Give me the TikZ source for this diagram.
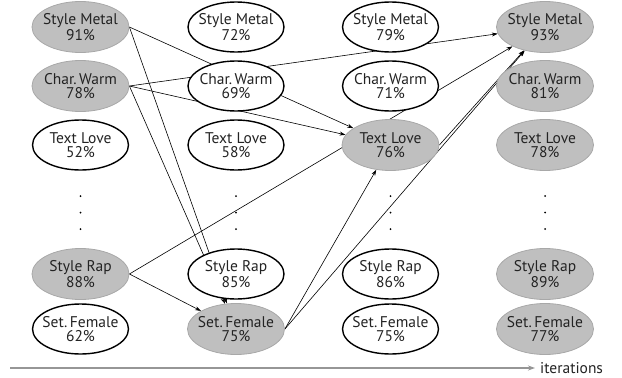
\documentclass[tikz,border=0pt]{standalone}
\usepackage{fontspec}
\setmainfont{PT Sans}
\usepackage{tikz}
\usetikzlibrary{shapes}
\usetikzlibrary{arrows.meta}
\definecolor{nodegray}{RGB}{191,191,191}
\definecolor{rimgray}{RGB}{168,168,168}
\definecolor{txtgray}{RGB}{35,35,35}
\definecolor{axisgray}{RGB}{150,150,150}
\pgfdeclarelayer{background}
\pgfsetlayers{background,main}
\newcommand{\vfont}{\fontsize{15.5}{14}\selectfont}
\newcommand{\grayvertex}[4]{\node[shape=ellipse,fill=nodegray,draw=rimgray,line width=0.8pt,minimum width=97pt,minimum height=51pt,inner xsep=-12pt,inner ysep=-2pt,align=center,text=txtgray,font=\vfont] (#1) at ( #2 , #3 ) {#4};}
\newcommand{\whitevertex}[4]{\node[shape=ellipse,fill=white,draw=black,line width=1.4pt,minimum width=96pt,minimum height=50pt,inner xsep=-12pt,inner ysep=-2pt,align=center,text=txtgray,font=\vfont] (#1) at ( #2 , #3 ) {#4};}
\newcommand{\dotcol}[1]{\fill[black] ( #1 , 196 ) circle (1pt); \fill[black] ( #1 , 212.5 ) circle (1pt); \fill[black] ( #1 , 229 ) circle (1pt);}

\begin{document}
\begin{tikzpicture}[x=1pt,y=-1pt,>={Stealth[length=6pt,width=4pt]}]
        \useasboundingbox (0,0) rectangle (622,378);

        % column 1
        \grayvertex{m1}{80.5}{27}{Style Metal\\91\%}
        \grayvertex{c1}{80.5}{86}{Char.\,Warm\\78\%}
        \whitevertex{t1}{80.5}{145}{Text Love\\52\%}
        \grayvertex{r1}{80.5}{274}{Style Rap\\88\%}
        \whitevertex{f1}{80.5}{329}{Set.\,Female\\62\%}
        % column 2
        \whitevertex{m2}{236}{27}{Style Metal\\72\%}
        \whitevertex{c2}{236}{86}{Char.\,Warm\\69\%}
        \whitevertex{t2}{236}{145}{Text Love\\58\%}
        \whitevertex{r2}{236}{274}{Style Rap\\85\%}
        \grayvertex{f2}{236}{329}{Set.\,Female\\75\%}
        % column 3
        \whitevertex{m3}{390.5}{27}{Style Metal\\79\%}
        \whitevertex{c3}{390.5}{86}{Char.\,Warm\\71\%}
        \grayvertex{t3}{390.5}{145}{Text Love\\76\%}
        \whitevertex{r3}{390.5}{274}{Style Rap\\86\%}
        \whitevertex{f3}{390.5}{329}{Set.\,Female\\75\%}
        % column 4
        \grayvertex{m4}{545}{27}{Style Metal\\93\%}
        \grayvertex{c4}{545}{86}{Char.\,Warm\\81\%}
        \grayvertex{t4}{545}{145}{Text Love\\78\%}
        \grayvertex{r4}{545}{274}{Style Rap\\89\%}
        \grayvertex{f4}{545}{329}{Set.\,Female\\77\%}

        % dots
        \dotcol{80.5}
        \dotcol{236}
        \dotcol{390.5}
        \dotcol{545}

        % links (under the ellipses)
        \begin{pgfonlayer}{background}
        \draw[->,line width=0.6pt] (m1.east) -- (t3);
        \draw[->,line width=0.6pt] (m1.east) -- (f2);
        \draw[->,line width=0.6pt] (c1.east) -- (m4);
        \draw[->,line width=0.6pt] (c1.east) -- (t3);
        \draw[->,line width=0.6pt] (c1.east) -- (f2);
        \draw[->,line width=0.6pt] (r1.east) -- (m4);
        \draw[->,line width=0.6pt] (r1.east) -- (f2);
        \draw[->,line width=0.6pt] (f2.east) -- (t3);
        \draw[->,line width=0.6pt] (f2.east) -- (m4);
        \draw[->,line width=0.6pt] (t3.east) -- (m4);
        \end{pgfonlayer}

        % time axis
        \coordinate (ax) at (10,368);
        \node[anchor=west,inner sep=0pt,text=txtgray,font=\vfont] (iter) at (540,368) {iterations};
        \draw[->,axisgray,line width=1.2pt,>={Stealth[length=7pt,width=5pt]}] (ax) -- ([xshift=-5pt]iter.west);
\end{tikzpicture}
\end{document}
